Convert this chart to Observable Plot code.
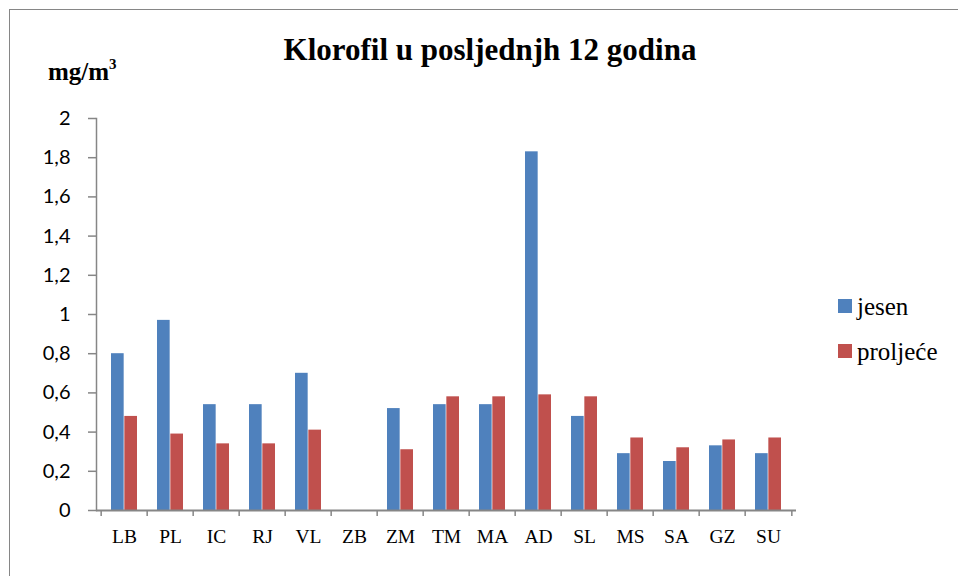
<!DOCTYPE html>
<html>
<head>
<meta charset="utf-8">
<script src="https://cdn.jsdelivr.net/npm/d3@7"></script>
<script src="https://cdn.jsdelivr.net/npm/@observablehq/plot@0.6"></script>
<style>
  html, body { margin: 0; padding: 0; background: #fff; }
  #wrap { position: relative; width: 958px; height: 576px; overflow: hidden; background: #fff; }
  #frame { position: absolute; left: 9px; top: 9px; width: 1000px; height: 1000px; border-left: 1.5px solid #868686; border-top: 1.5px solid #868686; z-index: 5; pointer-events: none; }
  #chart { position: absolute; left: 0; top: 0; }
  .serif { font-family: "Liberation Serif", "Times New Roman", serif; color: #000; }
  #title { position: absolute; left: 0; width: 980px; text-align: center; top: 34px; font-size: 31px; line-height: 31px; font-weight: bold; white-space: nowrap; }
  #unit { position: absolute; left: 48px; top: 59px; font-size: 25px; line-height: 26px; font-weight: bold; white-space: nowrap; }
  #unit sup { font-size: 15px; position: relative; top: -2px; vertical-align: top; line-height: 1; }
  .sw { position: absolute; left: 838px; width: 14px; height: 14px; }
  .lt { position: absolute; left: 857px; font-size: 25px; line-height: 25px; white-space: nowrap; font-family: "Liberation Serif", "Times New Roman", serif; color: #000; }
</style>
</head>
<body>
<div id="wrap">
  <div id="chart"></div>
  <div id="title" class="serif"></div>
  <div id="unit" class="serif">mg/m<sup>3</sup></div>
  <div id="legend"></div>
  <div id="frame"></div>
</div>
<script>
const title = "Klorofil u posljednjh 12 godina";
const categories = ["LB","PL","IC","RJ","VL","ZB","ZM","TM","MA","AD","SL","MS","SA","GZ","SU"];
const seriesNames = ["jesen", "proljeće"];
const jesen =    [0.80, 0.97, 0.54, 0.54, 0.70, null, 0.52, 0.54, 0.54, 1.83, 0.48, 0.29, 0.25, 0.33, 0.29];
const proljece = [0.48, 0.39, 0.34, 0.34, 0.41, null, 0.31, 0.58, 0.58, 0.59, 0.58, 0.37, 0.32, 0.36, 0.37];
const yTicks = [0, 0.2, 0.4, 0.6, 0.8, 1, 1.2, 1.4, 1.6, 1.8, 2];
const colors = ["#4F81BD", "#C0504D"];

const data = categories.flatMap((c, i) => [
  {cat: c, series: seriesNames[0], value: jesen[i]},
  {cat: c, series: seriesNames[1], value: proljece[i]}
]);

const W = 958, H = 576;
const mL = 96, mR = 162, mT = 118, mB = 66;
const step = (W - mL - mR) / categories.length;
const barW = step * 0.2857;
const gap = (step - 2 * barW) / 2;
const fmt = d => String(d).replace(".", ",");
const axisGrey = "#868686";

const chart = Plot.plot({
  width: W, height: H,
  marginLeft: mL, marginRight: mR, marginTop: mT, marginBottom: mB,
  style: {background: "transparent", overflow: "visible"},
  x: {type: "band", domain: categories, padding: 0, axis: null, label: null},
  y: {domain: [0, 2], axis: null, label: null},
  marks: [
    Plot.barY(data.filter(d => d.series === seriesNames[0] && d.value != null),
      {x: "cat", y: "value", fill: colors[0], insetLeft: gap, insetRight: gap + barW}),
    Plot.barY(data.filter(d => d.series === seriesNames[1] && d.value != null),
      {x: "cat", y: "value", fill: colors[1], insetLeft: gap + barW, insetRight: gap}),
    Plot.frame({anchor: "left", stroke: axisGrey, strokeWidth: 1.5}),
    Plot.ruleY([0], {stroke: axisGrey, strokeWidth: 2}),
    Plot.axisY(yTicks, {tickSize: 8, tickFormat: () => "", stroke: axisGrey, strokeWidth: 1.5, label: null}),
    Plot.axisY(yTicks, {tickSize: 0, tickPadding: 26, tickFormat: fmt, fill: "#000", label: null,
      fontSize: 20, fontFamily: "Lato, 'Open Sans', sans-serif"}),
    Plot.axisX(categories, {tickSize: 6, dx: -step / 2, tickFormat: () => "", stroke: axisGrey, strokeWidth: 1.5, label: null}),
    Plot.axisX(categories.slice(-1), {tickSize: 6, dx: step / 2, tickFormat: () => "", stroke: axisGrey, strokeWidth: 1.5, label: null}),
    Plot.axisX(categories, {tickSize: 0, tickPadding: 19, fill: "#000", label: null,
      fontSize: 19.5, fontFamily: "'Liberation Serif', 'Times New Roman', serif"})
  ]
});
document.getElementById("chart").appendChild(chart);
document.getElementById("title").textContent = title;

const legend = document.getElementById("legend");
seriesNames.forEach((name, i) => {
  const sw = document.createElement("div");
  sw.className = "sw";
  sw.style.top = (299 + i * 45) + "px";
  sw.style.background = colors[i];
  legend.appendChild(sw);
  const t = document.createElement("div");
  t.className = "lt";
  t.style.top = (294 + i * 45) + "px";
  t.textContent = name;
  legend.appendChild(t);
});
</script>
</body>
</html>
